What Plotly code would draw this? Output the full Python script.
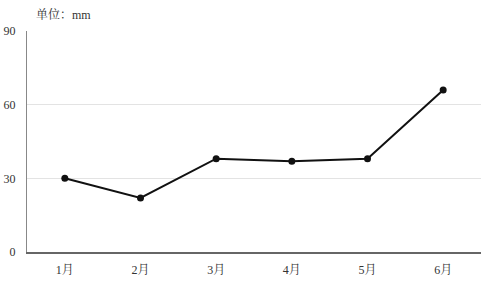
import plotly.graph_objects as go

months = ["1月", "2月", "3月", "4月", "5月", "6月"]
rainfall = [30, 22, 38, 37, 38, 66]
y_ticks = [0, 30, 60, 90]

font_family = "'Liberation Serif', 'Noto Serif CJK SC', 'Noto Sans CJK SC', serif"

fig = go.Figure(go.Scatter(
    x=months, y=rainfall, mode="lines+markers",
    line=dict(color="#111111", width=2),
    marker=dict(color="#111111", size=7),
    showlegend=False,
))

fig.update_layout(
    width=493, height=284,
    margin=dict(l=27, r=12, t=31, b=32),
    paper_bgcolor="white", plot_bgcolor="white",
    font=dict(family=font_family, size=12, color="#333333"),
    annotations=[dict(text="单位：mm", xref="paper", yref="paper", x=0.015, y=1.0,
                      yshift=16, xanchor="left", yanchor="middle", showarrow=False,
                      font=dict(family=font_family, size=12, color="#333333"))],
)
fig.update_xaxes(range=[-0.5, 5.5], showgrid=False, showline=True, linecolor="#666666",
                 linewidth=1.5, ticks="", tickfont=dict(size=12), ticklabelstandoff=6,
                 automargin=False)
fig.update_yaxes(range=[0, 90], tickvals=y_ticks, showgrid=True, gridcolor="#e3e3e3",
                 showline=True, linecolor="#888888", linewidth=1, zeroline=False,
                 ticks="", tickfont=dict(size=12), ticklabelstandoff=8, automargin=False)

fig.write_html("out.html")
